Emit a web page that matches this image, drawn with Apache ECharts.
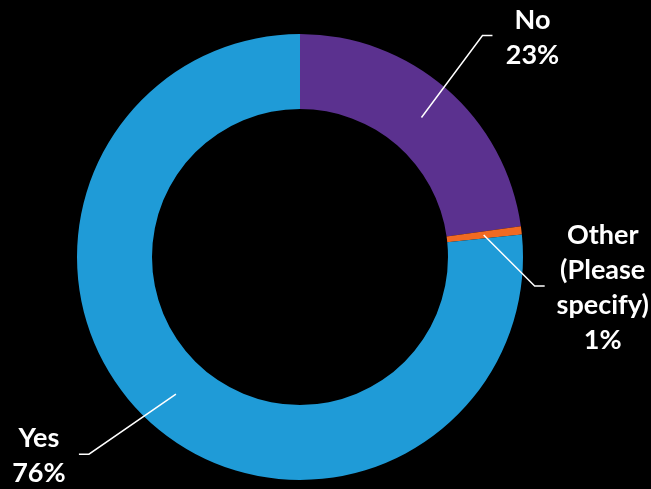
<!DOCTYPE html>
<html>
<head>
<meta charset="utf-8">
<script src="https://cdn.jsdelivr.net/npm/echarts@6/dist/echarts.min.js"></script>
<style>
    html, body { margin: 0; padding: 0; background: #000; }
    #chart { width: 651px; height: 489px; }
</style>
</head>
<body>
<div id="chart"></div>
<script>
// answers, clockwise from 12 o'clock
var categories = ['No', 'Other\n(Please\nspecify)', 'Yes'];
var shares = [22.8, 0.6, 76.6];
var shareLabels = ['23%', '1%', '76%'];

var colors = ['#5B318F', '#F26A22', '#1F9BD7'];
// label line: bend point relative to the mid-ring anchor, then a short tail
var elbowOffsets = [[61, -82], [51, 51], [-87, 60]];
var labelWidths = [60, 96, 60];

var ringData = [], labelData = [];
for (var i = 0; i < categories.length; i++) {
    ringData.push({name: categories[i], value: shares[i], itemStyle: {color: colors[i]}});
    labelData.push({name: categories[i], value: shares[i], label: {width: labelWidths[i]}});
}

var myChart = echarts.init(document.getElementById('chart'));
var option = {
    backgroundColor: '#000',
    animation: false,
    series: [
        {
            type: 'pie',
            z: 2,
            center: [300, 257],
            radius: [148, 223],
            startAngle: 90,
            clockwise: true,
            silent: true,
            label: {show: false},
            labelLine: {show: false},
            itemStyle: {borderWidth: 0},
            emphasis: {disabled: true},
            data: ringData
        },
        {
            // invisible pie so label lines start in the middle of the ring
            type: 'pie',
            z: 5,
            center: [300, 257],
            radius: [0, 185],
            startAngle: 90,
            clockwise: true,
            silent: true,
            avoidLabelOverlap: false,
            itemStyle: {color: 'transparent', borderWidth: 0},
            emphasis: {disabled: true},
            label: {
                show: true,
                position: 'outside',
                color: '#fff',
                fontFamily: 'Lato',
                fontWeight: 'bold',
                fontSize: 27,
                lineHeight: 35,
                align: 'center',
                overflow: 'none',
                formatter: function (p) {
                    return p.name + '\n' + shareLabels[p.dataIndex];
                }
            },
            labelLine: {
                show: true,
                length: 10,
                length2: 10,
                lineStyle: {color: '#fff', width: 1.5}
            },
            labelLayout: function (p) {
                var i = p.dataIndex;
                var a = p.labelLinePoints[0];
                var e = [a[0] + elbowOffsets[i][0], a[1] + elbowOffsets[i][1]];
                var dir = elbowOffsets[i][0] > 0 ? 1 : -1;
                var t = [e[0] + dir * 10, e[1]];
                return {
                    x: t[0] + dir * (10 + labelWidths[i] / 2),
                    y: t[1] + 2,
                    align: 'center',
                    verticalAlign: 'middle',
                    labelLinePoints: [a, e, t]
                };
            },
            data: labelData
        }
    ]
};
myChart.setOption(option);
window.onresize = myChart.resize;
</script>
</body>
</html>
